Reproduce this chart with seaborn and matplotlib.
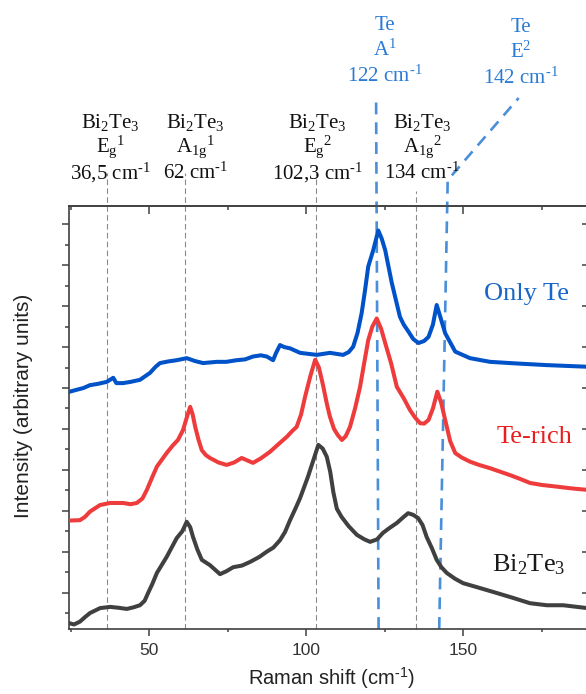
import numpy as np
import pandas as pd
import matplotlib
matplotlib.use("Agg")
import matplotlib.pyplot as plt
import matplotlib.transforms as mtransforms
from matplotlib.ticker import MultipleLocator, NullFormatter
import seaborn as sns

# === Spectra (Raman shift in cm-1, intensity in arbitrary stacked units) ===
bi2te3_x = [24.6, 26.0, 27.9, 29.5, 31.1, 34.3, 37.5, 40.0, 42.8, 45.0, 47.0, 48.5, 49.6, 51.0,
            52.4, 55.5, 58.7, 60.5, 61.9, 63.0, 63.9, 65.3, 66.7, 69.3, 72.5, 74.5, 76.7, 79.5,
            82.1, 85.0, 87.4, 89.5, 91.6, 93.2, 94.8, 96.5, 98.0, 100.5, 102.5, 103.8, 105.2,
            106.5, 107.6, 108.6, 109.7, 111.2, 113.5, 116.1, 118.5, 120.3, 122.5, 124.4, 126.5,
            128.8, 131.0, 132.4, 134.0, 135.6, 137.0, 138.3, 140.0, 141.5, 143.0, 144.7, 147.3,
            149.9, 155.3, 160.6, 165.8, 171.2, 176.6, 181.8, 189.5]
bi2te3_y = [0.25, 0.22, 0.29, 0.40, 0.50, 0.62, 0.65, 0.63, 0.60, 0.64, 0.69, 0.80, 0.99, 1.22,
            1.48, 1.87, 2.33, 2.50, 2.73, 2.60, 2.36, 2.05, 1.80, 1.67, 1.45, 1.52, 1.62, 1.66,
            1.75, 1.87, 2.00, 2.10, 2.28, 2.48, 2.77, 3.05, 3.31, 3.83, 4.30, 4.61, 4.52,
            4.32, 3.95, 3.45, 3.05, 2.85, 2.62, 2.41, 2.30, 2.24, 2.30, 2.46, 2.58,
            2.70, 2.85, 2.94, 2.90, 2.82, 2.65, 2.36, 2.08, 1.80, 1.62, 1.48, 1.34,
            1.23, 1.11, 0.99, 0.87, 0.74, 0.69, 0.69, 0.62]

terich_x = [24.6, 27.9, 29.5, 31.1, 34.3, 37.5, 41.6, 44.0, 46.0, 47.8, 49.2, 50.8, 52.4, 55.5,
            57.5, 59.1, 60.7, 62.0, 63.0, 63.8, 64.6, 65.6, 66.7, 68.0, 69.3, 72.0, 74.6, 77.0,
            79.4, 83.0, 85.5, 88.4, 91.0, 93.8, 95.5, 96.9, 98.3, 99.6, 101.3, 102.8, 104.0,
            105.3, 106.5, 107.5, 108.8, 110.0, 111.3, 112.5, 113.9, 115.5, 117.1, 118.5, 119.7,
            121.0, 122.4, 123.8, 125.1, 127.0, 128.8, 131.0, 133.0, 134.6, 136.2, 137.5, 138.9,
            140.3, 141.7, 142.9, 144.2, 145.8, 147.4, 149.5, 152.1, 155.0, 158.5, 161.5, 164.9,
            168.0, 171.2, 175.0, 179.7, 184.0, 189.5]
terich_y = [2.76, 2.77, 2.85, 2.98, 3.14, 3.19, 3.19, 3.16, 3.19, 3.30, 3.51, 3.80, 4.08, 4.41,
            4.60, 4.73, 4.97, 5.30, 5.54, 5.35, 5.05, 4.75, 4.48, 4.36, 4.29, 4.18, 4.12, 4.18,
            4.29, 4.17, 4.28, 4.44, 4.62, 4.81, 4.95, 5.05, 5.35, 5.79, 6.30, 6.69, 6.50,
            6.07, 5.62, 5.30, 5.00, 4.85, 4.73, 4.82, 5.05, 5.50, 6.03, 6.65, 7.17,
            7.50, 7.70, 7.45, 7.10, 6.60, 6.03, 5.75, 5.46, 5.28, 5.14, 5.13, 5.22,
            5.50, 5.91, 5.65, 5.22, 4.70, 4.41, 4.30, 4.20, 4.12, 4.04, 3.96, 3.87,
            3.78, 3.68, 3.63, 3.59, 3.55, 3.51]

onlyte_x = [24.6, 27.0, 29.0, 31.1, 33.5, 36.4, 38.5, 39.5, 41.6, 44.0, 47.0, 50.2, 52.0, 53.4,
            56.0, 58.7, 61.9, 64.5, 67.1, 71.5, 74.5, 77.8, 80.5, 83.0, 85.5, 87.4, 89.4, 90.3,
            91.6, 93.0, 94.8, 98.0, 103.3, 107.5, 111.7, 113.5, 114.9, 116.3, 117.6, 118.7,
            119.7, 121.3, 122.9, 124.0, 125.1, 127.2, 129.8, 131.0, 132.5, 134.0, 135.7, 137.5,
            138.9, 140.3, 141.5, 142.8, 144.2, 147.4, 152.1, 158.5, 167.0, 176.6, 189.5]
onlyte_y = [5.91, 5.96, 6.00, 6.07, 6.10, 6.15, 6.25, 6.12, 6.12, 6.15, 6.20, 6.37, 6.52, 6.61,
            6.65, 6.68, 6.73, 6.66, 6.61, 6.64, 6.64, 6.68, 6.70, 6.77, 6.80, 6.77, 6.68, 6.85,
            7.05, 7.00, 6.97, 6.86, 6.81, 6.86, 6.81, 6.88, 7.01, 7.35, 7.83, 8.40,
            8.97, 9.37, 9.85, 9.65, 9.37, 8.57, 7.74, 7.55, 7.38, 7.20, 7.10, 7.15,
            7.25, 7.55, 8.03, 7.70, 7.34, 6.89, 6.73, 6.64, 6.60, 6.56, 6.52]

# Mode positions (where the dashed guide lines sit) and their labels
bi2te3_modes = [36.5, 61.5, 103.0, 135.0]
bi2te3_mode_names = [r"E$_{\mathrm{g}}$$^{1}$", r"A$_{\mathrm{1g}}$$^{1}$",
                     r"E$_{\mathrm{g}}$$^{2}$", r"A$_{\mathrm{1g}}$$^{2}$"]
bi2te3_mode_text = [r"36,5 cm$^{\text{-}1}$", r"62 cm$^{\text{-}1}$",
                    r"102,3 cm$^{\text{-}1}$", r"134 cm$^{\text{-}1}$"]
bi2te3_label_x = [37.6, 64.6, 103.6, 136.9]

te_mode_names = [r"A$^{1}$", r"E$^{2}$"]
te_mode_text = [r"122 cm$^{\text{-}1}$", r"142 cm$^{\text{-}1}$"]
te_label_x = [124.9, 168.2]

# === Style ===
sns.set_style("ticks")
plt.rcParams["font.family"] = ["Liberation Sans", "DejaVu Sans"]
plt.rcParams["mathtext.fontset"] = "custom"
plt.rcParams["mathtext.rm"] = "Liberation Serif"
plt.rcParams["mathtext.it"] = "Liberation Serif:italic"
plt.rcParams["mathtext.sf"] = "Liberation Sans"

serif = ["Liberation Serif", "DejaVu Serif"]
axis_col = "#404040"
colors = {"Bi2Te3": "#404040", "Te-rich": "#EE3B3B", "Only Te": "#0052C8"}

fig = plt.figure(figsize=(5.86, 6.94), dpi=100)
ax = fig.add_axes([0.1177, 0.0937, 0.8874, 0.6095])

df = pd.concat([
    pd.DataFrame({"shift": bi2te3_x, "intensity": bi2te3_y, "sample": "Bi2Te3"}),
    pd.DataFrame({"shift": terich_x, "intensity": terich_y, "sample": "Te-rich"}),
    pd.DataFrame({"shift": onlyte_x, "intensity": onlyte_y, "sample": "Only Te"}),
])
sns.lineplot(data=df, x="shift", y="intensity", hue="sample", palette=colors,
             estimator=None, sort=False, legend=False, linewidth=2.9, ax=ax, zorder=3)

ax.set_xlim(24.4, 190.0)
ax.set_ylim(0.11, 10.45)
y0 = ax.get_ylim()[0]

# grey guide lines for Bi2Te3 modes (they run above the frame up to the labels)
tops = [11.26, 11.26, 11.26, 10.82]
for pos, top in zip(bi2te3_modes, tops):
    ax.plot([pos, pos], [y0, top], color="#8a8a8a", lw=0.8, dashes=(5, 3),
            clip_on=False, zorder=1)

# blue guide lines for Te modes
ax.plot([123.0, 122.2], [y0, 13.09], color="#4A8FDA", lw=1.9, dashes=(4.5, 3),
        clip_on=False, zorder=2)
ax.plot([142.3, 145.0, 167.6], [y0, 11.08, 13.09], color="#4A8FDA", lw=1.9,
        dashes=(4.5, 3), clip_on=False, zorder=2)

# mode annotations above the frame
trans = mtransforms.blended_transform_factory(ax.transData, ax.transAxes)
for xl, name, txt in zip(bi2te3_label_x, bi2te3_mode_names, bi2te3_mode_text):
    ax.text(xl, 1.1844, r"Bi$_{2}$Te$_{3}$", transform=trans, ha="center", va="baseline",
            fontsize=15, family=serif, color="#111111")
    ax.text(xl, 1.1290, name, transform=trans, ha="center", va="baseline",
            fontsize=15, family=serif, color="#111111")
    ax.text(xl, 1.0640, txt, transform=trans, ha="center", va="baseline",
            fontsize=15, family=serif, color="#111111")

for i, (xl, name, txt) in enumerate(zip(te_label_x, te_mode_names, te_mode_text)):
    dy = -0.005 * i
    ax.text(xl, 1.4161 + dy, "Te", transform=trans, ha="center", va="baseline",
            fontsize=15, family=serif, color="#2A7BD4")
    ax.text(xl, 1.3546 + dy, name, transform=trans, ha="center", va="baseline",
            fontsize=15, family=serif, color="#2A7BD4")
    ax.text(xl, 1.2931 + dy, txt, transform=trans, ha="center", va="baseline",
            fontsize=15, family=serif, color="#2A7BD4")

# curve labels
ax.text(170.2, 8.15, "Only Te", ha="center", va="baseline", fontsize=19,
        family=serif, color="#1A66C8")
ax.text(172.5, 4.65, "Te-rich", ha="center", va="baseline", fontsize=19,
        family=serif, color="#E81E1E")
ax.text(170.9, 1.51, r"Bi$_{2}$Te$_{3}$", ha="center", va="baseline", fontsize=19,
        family=serif, color="#1a1a1a")

# axes, ticks
ax.xaxis.set_major_locator(MultipleLocator(50))
ax.xaxis.set_minor_locator(MultipleLocator(25))
ax.yaxis.set_major_locator(MultipleLocator(1))
ax.yaxis.set_minor_locator(MultipleLocator(0.5))
ax.yaxis.set_major_formatter(NullFormatter())
ax.tick_params(axis="x", which="major", direction="out", length=4.8, width=1.1,
               color=axis_col, labelsize=12.5, labelcolor="#333333", pad=5)
ax.tick_params(axis="x", which="minor", direction="out", length=2.3, width=1.1, color=axis_col)
ax.tick_params(axis="y", which="major", direction="out", length=5, width=1.1, color=axis_col)
ax.tick_params(axis="y", which="minor", direction="out", length=2.8, width=1.1, color=axis_col)

top = ax.secondary_xaxis("top")
top.xaxis.set_major_locator(MultipleLocator(50))
top.xaxis.set_minor_locator(MultipleLocator(25))
top.tick_params(axis="x", which="major", direction="in", length=5.5, width=1.1,
                color=axis_col, labeltop=False)
top.tick_params(axis="x", which="minor", direction="in", length=2.9, width=1.1, color=axis_col)

right = ax.secondary_yaxis("right")
right.yaxis.set_major_locator(MultipleLocator(1))
right.tick_params(axis="y", which="major", direction="in", length=5, width=1.1,
                  color=axis_col, labelright=False)
right.tick_params(axis="y", which="minor", length=0)

for a in (ax, top, right):
    for sp in a.spines.values():
        sp.set_color(axis_col)
        sp.set_linewidth(1.2)

ax.set_xlabel(r"Raman shift (cm$^{\text{-}\mathsf{1}}$)", fontsize=14.5, color="#222222")
ax.set_ylabel("Intensity (arbitrary units)", fontsize=15, color="#222222")
ax.xaxis.set_label_coords(0.504, -0.088)
ax.yaxis.set_label_coords(-0.069, 0.527)

fig.savefig("out.png", dpi=100)
